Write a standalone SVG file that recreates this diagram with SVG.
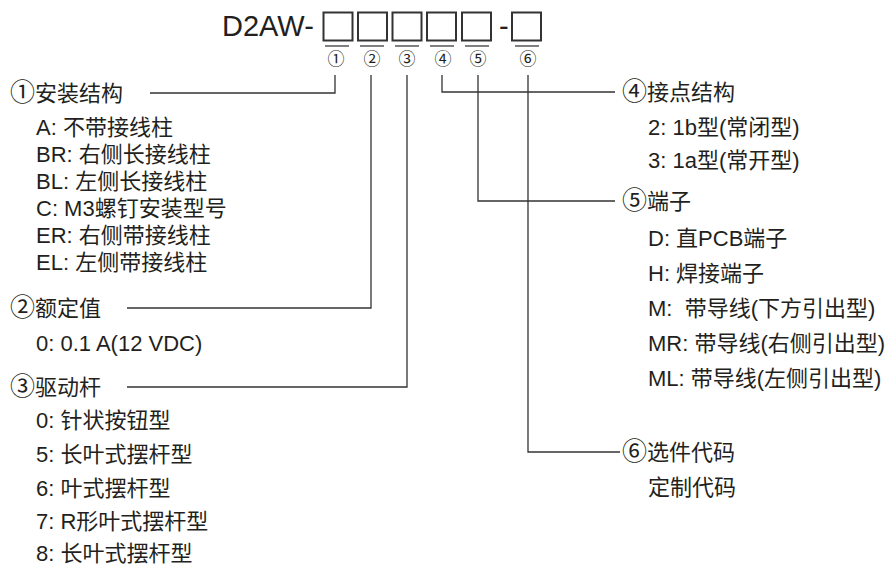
<svg xmlns="http://www.w3.org/2000/svg" width="893" height="566" viewBox="0 0 893 566">
<style>
text{font-family:"Liberation Sans","Noto Sans CJK SC",sans-serif;fill:#231f20}
.t{font-size:22px}
.cn{font-size:25px}
.n{font-size:17px;text-anchor:middle}
.box{fill:none;stroke:#333;stroke-width:2}
.ul{stroke:#808080;stroke-width:2}
.c{fill:none;stroke:#333;stroke-width:1.3}
</style>
<rect width="893" height="566" fill="#fff"/>
<g id="code">
<text x="222" y="36" style="font-size:29px">D2AW-</text>
<rect class="box" x="323.5" y="12.5" width="29" height="28"/>
<rect class="box" x="358" y="12.5" width="29" height="28"/>
<rect class="box" x="392.5" y="12.5" width="29" height="28"/>
<rect class="box" x="427" y="12.5" width="29" height="28"/>
<rect class="box" x="462" y="12.5" width="29" height="28"/>
<text x="499" y="36" style="font-size:29px">-</text>
<rect class="box" x="512" y="12.5" width="29" height="28"/>
<line class="ul" x1="325" y1="46" x2="349" y2="46"/>
<line class="ul" x1="360" y1="46" x2="384" y2="46"/>
<line class="ul" x1="395" y1="46" x2="419" y2="46"/>
<line class="ul" x1="430" y1="46" x2="454" y2="46"/>
<line class="ul" x1="465" y1="46" x2="489" y2="46"/>
<line class="ul" x1="515" y1="46" x2="539" y2="46"/>
<text class="n" x="336" y="65">①</text>
<text class="n" x="372" y="65">②</text>
<text class="n" x="407" y="65">③</text>
<text class="n" x="443" y="65">④</text>
<text class="n" x="478" y="65">⑤</text>
<text class="n" x="528" y="65">⑥</text>
</g>
<g id="connectors">
<polyline class="c" points="335,75 335,93 150,93"/>
<polyline class="c" points="371,75 371,308 127,308"/>
<polyline class="c" points="407,75 407,387 127,387"/>
<polyline class="c" points="442,75 442,92 615,92"/>
<polyline class="c" points="478,75 478,201 615,201"/>
<polyline class="c" points="528,75 528,452 620,452"/>
</g>
<g id="n1">
<text class="t" x="10" y="101"><tspan class="cn">①</tspan>安装结构</text>
<text class="t" x="36" y="135">A: 不带接线柱</text>
<text class="t" x="36" y="162">BR: 右侧长接线柱</text>
<text class="t" x="36" y="189">BL: 左侧长接线柱</text>
<text class="t" x="36" y="216">C: M3螺钉安装型号</text>
<text class="t" x="36" y="243">ER: 右侧带接线柱</text>
<text class="t" x="36" y="270">EL: 左侧带接线柱</text>
</g>
<g id="n2">
<text class="t" x="10" y="316"><tspan class="cn">②</tspan>额定值</text>
<text class="t" x="36" y="351">0: 0.1 A(12 VDC)</text>
</g>
<g id="n3">
<text class="t" x="10" y="395"><tspan class="cn">③</tspan>驱动杆</text>
<text class="t" x="36" y="428">0: 针状按钮型</text>
<text class="t" x="36" y="462">5: 长叶式摆杆型</text>
<text class="t" x="36" y="496">6: 叶式摆杆型</text>
<text class="t" x="36" y="529">7: R形叶式摆杆型</text>
<text class="t" x="36" y="561">8: 长叶式摆杆型</text>
</g>
<g id="n4">
<text class="t" x="622" y="100"><tspan class="cn">④</tspan>接点结构</text>
<text class="t" x="648" y="135">2: 1b型(常闭型)</text>
<text class="t" x="648" y="168">3: 1a型(常开型)</text>
</g>
<g id="n5">
<text class="t" x="622" y="209"><tspan class="cn">⑤</tspan>端子</text>
<text class="t" x="648" y="246">D: 直PCB端子</text>
<text class="t" x="648" y="281">H: 焊接端子</text>
<text class="t" x="648" y="316" style="white-space:pre">M:  带导线(下方引出型)</text>
<text class="t" x="648" y="351">MR: 带导线(右侧引出型)</text>
<text class="t" x="648" y="386">ML: 带导线(左侧引出型)</text>
</g>
<g id="n6">
<text class="t" x="622" y="460"><tspan class="cn">⑥</tspan>选件代码</text>
<text class="t" x="648" y="495">定制代码</text>
</g>
</svg>
